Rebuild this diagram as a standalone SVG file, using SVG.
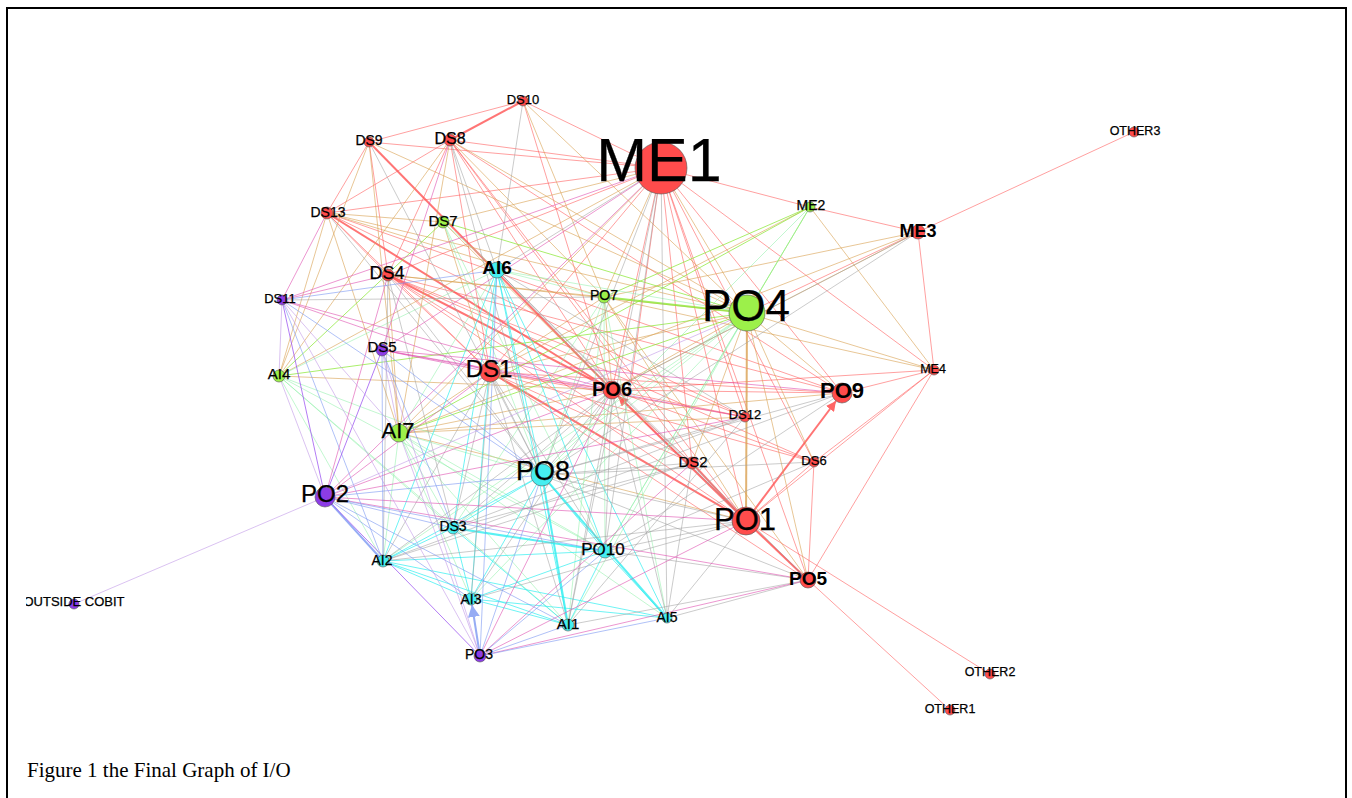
<svg xmlns="http://www.w3.org/2000/svg" width="1352" height="798" viewBox="0 0 1352 798">
<style>
.e line{fill:none;stroke-width:1}
.r{stroke:#ff5252;opacity:.55}
.t{stroke:#d9a050;opacity:.6}
.g{stroke:#8ee83a;opacity:.75}
.y{stroke:#8ff0aa;opacity:.55}
.c{stroke:#30eef0;opacity:.7}
.k{stroke:#a0a0a0;opacity:.55}
.m{stroke:#e050b0;opacity:.6}
.b{stroke:#7c98f2;opacity:.6}
.p{stroke:#9a50f0;opacity:.75}
.l{stroke:#c29ae8;opacity:.6}
.w{stroke-width:2!important;opacity:.8}
.n circle{stroke:#555;stroke-width:.6}
.R{fill:#ff4c4c}.G{fill:#9cf04a}.C{fill:#45eef0}.P{fill:#8c3ce6}
.n text{font-family:"Liberation Sans",Arial,sans-serif;text-anchor:middle;fill:#000;stroke:#000;stroke-width:.25}
.n text.bd{font-weight:bold;stroke-width:0}
</style>
<defs>
<marker id="ar" viewBox="0 0 10 10" refX="10" refY="5" markerWidth="5" markerHeight="5" orient="auto"><path d="M0 0L10 5L0 10z" fill="#ff4040"/></marker>
<marker id="ab" viewBox="0 0 10 10" refX="10" refY="5" markerWidth="6" markerHeight="6" orient="auto"><path d="M0 0L10 5L0 10z" fill="#7c98f2"/></marker>
<clipPath id="cl"><rect x="26" y="0" width="1326" height="798"/></clipPath>
</defs>
<rect x="7" y="8" width="1339" height="800" fill="#fff" stroke="#000" stroke-width="2"/>
<g id="edges" class="e">
<line class="r" x1="523" y1="101" x2="369" y2="142"/>
<line class="r w" x1="523" y1="101" x2="450" y2="140"/>
<line class="r" x1="523" y1="101" x2="661" y2="168"/>
<line class="r" x1="523" y1="101" x2="612" y2="390"/>
<line class="r" x1="369" y1="142" x2="327" y2="213"/>
<line class="r" x1="369" y1="142" x2="388" y2="275"/>
<line class="r" x1="369" y1="142" x2="661" y2="168"/>
<line class="r w" x1="369" y1="142" x2="612" y2="390"/>
<line class="r" x1="450" y1="140" x2="327" y2="213"/>
<line class="r" x1="450" y1="140" x2="661" y2="168"/>
<line class="r" x1="450" y1="140" x2="388" y2="275"/>
<line class="r" x1="450" y1="140" x2="490" y2="372"/>
<line class="r" x1="450" y1="140" x2="612" y2="390"/>
<line class="r" x1="450" y1="140" x2="746" y2="521"/>
<line class="r" x1="450" y1="140" x2="692" y2="463"/>
<line class="r" x1="450" y1="140" x2="842" y2="393"/>
<line class="r" x1="327" y1="213" x2="388" y2="275"/>
<line class="r w" x1="327" y1="213" x2="612" y2="390"/>
<line class="r" x1="327" y1="213" x2="490" y2="372"/>
<line class="r" x1="327" y1="213" x2="661" y2="168"/>
<line class="r" x1="327" y1="213" x2="745" y2="417"/>
<line class="r" x1="327" y1="213" x2="842" y2="393"/>
<line class="r w" x1="388" y1="275" x2="612" y2="390"/>
<line class="r" x1="388" y1="275" x2="746" y2="521"/>
<line class="r" x1="388" y1="275" x2="490" y2="372"/>
<line class="r" x1="388" y1="275" x2="842" y2="393"/>
<line class="r" x1="388" y1="275" x2="745" y2="417"/>
<line class="r" x1="388" y1="275" x2="661" y2="168"/>
<line class="r" x1="388" y1="275" x2="814" y2="462"/>
<line class="r" x1="388" y1="275" x2="692" y2="463"/>
<line class="r" x1="810" y1="207" x2="918" y2="232"/>
<line class="r" x1="918" y1="232" x2="1134" y2="132"/>
<line class="r" x1="918" y1="232" x2="934" y2="370"/>
<line class="r" x1="918" y1="232" x2="747" y2="313"/>
<line class="r" x1="661" y1="168" x2="934" y2="370"/>
<line class="r" x1="661" y1="168" x2="842" y2="393"/>
<line class="r" x1="661" y1="168" x2="808" y2="580"/>
<line class="r" x1="661" y1="168" x2="746" y2="521"/>
<line class="r" x1="661" y1="168" x2="745" y2="417"/>
<line class="r" x1="661" y1="168" x2="692" y2="463"/>
<line class="r" x1="661" y1="168" x2="814" y2="462"/>
<line class="r" x1="661" y1="168" x2="490" y2="372"/>
<line class="r" x1="661" y1="168" x2="612" y2="390"/>
<line class="r" x1="661" y1="168" x2="630" y2="390"/>
<line class="r" x1="490" y1="372" x2="612" y2="390"/>
<line class="r w" x1="490" y1="372" x2="746" y2="521"/>
<line class="r" x1="490" y1="372" x2="842" y2="393"/>
<line class="r" x1="490" y1="372" x2="745" y2="417"/>
<line class="r" x1="490" y1="372" x2="814" y2="462"/>
<line class="r" x1="490" y1="372" x2="808" y2="580"/>
<line class="r" x1="490" y1="372" x2="692" y2="463"/>
<line class="r w" x1="746" y1="521" x2="618" y2="396" marker-end="url(#ar)"/>
<line class="r" x1="612" y1="390" x2="842" y2="393"/>
<line class="r" x1="612" y1="390" x2="745" y2="417"/>
<line class="r" x1="612" y1="390" x2="814" y2="462"/>
<line class="r" x1="612" y1="390" x2="692" y2="463"/>
<line class="r" x1="612" y1="390" x2="808" y2="580"/>
<line class="r" x1="612" y1="390" x2="934" y2="370"/>
<line class="r" x1="842" y1="393" x2="934" y2="370"/>
<line class="r w" x1="746" y1="521" x2="836" y2="401" marker-end="url(#ar)"/>
<line class="r" x1="934" y1="370" x2="746" y2="521"/>
<line class="r" x1="934" y1="370" x2="808" y2="580"/>
<line class="r" x1="934" y1="370" x2="814" y2="462"/>
<line class="r w" x1="692" y1="463" x2="746" y2="521"/>
<line class="r" x1="814" y1="462" x2="808" y2="580"/>
<line class="r" x1="814" y1="462" x2="746" y2="521"/>
<line class="r w" x1="746" y1="521" x2="808" y2="580"/>
<line class="r" x1="746" y1="521" x2="990" y2="674"/>
<line class="r" x1="808" y1="580" x2="950" y2="710"/>
<line class="t" x1="523" y1="101" x2="604" y2="297"/>
<line class="t" x1="523" y1="101" x2="747" y2="313"/>
<line class="t" x1="369" y1="142" x2="279" y2="376"/>
<line class="t" x1="369" y1="142" x2="747" y2="313"/>
<line class="t" x1="369" y1="142" x2="399" y2="433"/>
<line class="t" x1="450" y1="140" x2="399" y2="433"/>
<line class="t" x1="450" y1="140" x2="747" y2="313"/>
<line class="t" x1="450" y1="140" x2="604" y2="297"/>
<line class="t" x1="450" y1="140" x2="279" y2="376"/>
<line class="t" x1="327" y1="213" x2="279" y2="376"/>
<line class="t" x1="327" y1="213" x2="399" y2="433"/>
<line class="t" x1="327" y1="213" x2="747" y2="313"/>
<line class="t" x1="327" y1="213" x2="604" y2="297"/>
<line class="t" x1="443" y1="222" x2="612" y2="390"/>
<line class="t" x1="443" y1="222" x2="661" y2="168"/>
<line class="t" x1="443" y1="222" x2="490" y2="372"/>
<line class="t" x1="443" y1="222" x2="327" y2="213"/>
<line class="t" x1="388" y1="275" x2="747" y2="313"/>
<line class="t" x1="388" y1="275" x2="399" y2="433"/>
<line class="t" x1="388" y1="275" x2="604" y2="297"/>
<line class="r" x1="661" y1="168" x2="810" y2="207"/>
<line class="t" x1="661" y1="168" x2="604" y2="297"/>
<line class="t" x1="661" y1="168" x2="747" y2="313"/>
<line class="t" x1="661" y1="168" x2="399" y2="433"/>
<line class="t" x1="661" y1="168" x2="279" y2="376"/>
<line class="t" x1="810" y1="207" x2="934" y2="370"/>
<line class="t" x1="810" y1="207" x2="490" y2="372"/>
<line class="t" x1="918" y1="232" x2="612" y2="390"/>
<line class="t" x1="918" y1="232" x2="604" y2="297"/>
<line class="t" x1="918" y1="232" x2="399" y2="433"/>
<line class="t" x1="604" y1="297" x2="612" y2="390"/>
<line class="t" x1="604" y1="297" x2="934" y2="370"/>
<line class="t" x1="747" y1="313" x2="934" y2="370"/>
<line class="t" x1="747" y1="313" x2="842" y2="393"/>
<line class="t w" x1="747" y1="313" x2="746" y2="521"/>
<line class="t" x1="747" y1="313" x2="808" y2="580"/>
<line class="t" x1="747" y1="313" x2="814" y2="462"/>
<line class="t" x1="747" y1="313" x2="612" y2="390"/>
<line class="t" x1="747" y1="313" x2="490" y2="372"/>
<line class="t" x1="747" y1="313" x2="692" y2="463"/>
<line class="t" x1="279" y1="376" x2="612" y2="390"/>
<line class="t" x1="399" y1="433" x2="612" y2="390"/>
<line class="t" x1="399" y1="433" x2="490" y2="372"/>
<line class="t" x1="399" y1="433" x2="842" y2="393"/>
<line class="t" x1="399" y1="433" x2="745" y2="417"/>
<line class="t" x1="604" y1="297" x2="490" y2="372"/>
<line class="t" x1="604" y1="297" x2="746" y2="521"/>
<line class="t" x1="604" y1="297" x2="808" y2="580"/>
<line class="t" x1="399" y1="433" x2="746" y2="521"/>
<line class="g" x1="443" y1="222" x2="279" y2="376"/>
<line class="g" x1="443" y1="222" x2="747" y2="313"/>
<line class="g w" x1="604" y1="297" x2="747" y2="313"/>
<line class="g" x1="810" y1="207" x2="747" y2="313"/>
<line class="g" x1="810" y1="207" x2="604" y2="297"/>
<line class="g" x1="810" y1="207" x2="399" y2="433"/>
<line class="g" x1="747" y1="313" x2="399" y2="433"/>
<line class="g" x1="747" y1="313" x2="279" y2="376"/>
<line class="y" x1="443" y1="222" x2="542" y2="475"/>
<line class="y" x1="443" y1="222" x2="605" y2="551"/>
<line class="y" x1="443" y1="222" x2="497" y2="270"/>
<line class="y" x1="497" y1="270" x2="747" y2="313"/>
<line class="y" x1="497" y1="270" x2="604" y2="297"/>
<line class="y" x1="604" y1="297" x2="542" y2="475"/>
<line class="y" x1="604" y1="297" x2="568" y2="625"/>
<line class="y" x1="604" y1="297" x2="605" y2="551"/>
<line class="y" x1="604" y1="297" x2="453" y2="528"/>
<line class="y" x1="604" y1="297" x2="667" y2="618"/>
<line class="y" x1="747" y1="313" x2="542" y2="475"/>
<line class="y" x1="747" y1="313" x2="605" y2="551"/>
<line class="y" x1="747" y1="313" x2="568" y2="625"/>
<line class="y" x1="747" y1="313" x2="453" y2="528"/>
<line class="y" x1="747" y1="313" x2="471" y2="599"/>
<line class="y" x1="747" y1="313" x2="383" y2="561"/>
<line class="y" x1="810" y1="207" x2="542" y2="475"/>
<line class="y" x1="810" y1="207" x2="605" y2="551"/>
<line class="y" x1="279" y1="376" x2="542" y2="475"/>
<line class="y" x1="279" y1="376" x2="453" y2="528"/>
<line class="y" x1="279" y1="376" x2="383" y2="561"/>
<line class="y" x1="279" y1="376" x2="605" y2="551"/>
<line class="y" x1="279" y1="376" x2="568" y2="625"/>
<line class="y" x1="399" y1="433" x2="542" y2="475"/>
<line class="y" x1="399" y1="433" x2="605" y2="551"/>
<line class="y" x1="399" y1="433" x2="568" y2="625"/>
<line class="y" x1="399" y1="433" x2="471" y2="599"/>
<line class="y" x1="399" y1="433" x2="667" y2="618"/>
<line class="y" x1="399" y1="433" x2="453" y2="528"/>
<line class="y" x1="399" y1="433" x2="497" y2="270"/>
<line class="y" x1="279" y1="376" x2="497" y2="270"/>
<line class="y" x1="399" y1="433" x2="383" y2="561"/>
<line class="c" x1="497" y1="270" x2="542" y2="475"/>
<line class="c" x1="497" y1="270" x2="605" y2="551"/>
<line class="c" x1="497" y1="270" x2="568" y2="625"/>
<line class="c" x1="497" y1="270" x2="453" y2="528"/>
<line class="c" x1="497" y1="270" x2="471" y2="599"/>
<line class="c" x1="497" y1="270" x2="383" y2="561"/>
<line class="c" x1="497" y1="270" x2="667" y2="618"/>
<line class="c w" x1="542" y1="475" x2="568" y2="625"/>
<line class="c w" x1="542" y1="475" x2="667" y2="618"/>
<line class="c" x1="542" y1="475" x2="605" y2="551"/>
<line class="c" x1="542" y1="475" x2="453" y2="528"/>
<line class="c" x1="542" y1="475" x2="383" y2="561"/>
<line class="c" x1="542" y1="475" x2="471" y2="599"/>
<line class="c" x1="383" y1="561" x2="471" y2="599"/>
<line class="c" x1="383" y1="561" x2="605" y2="551"/>
<line class="c" x1="383" y1="561" x2="568" y2="625"/>
<line class="c" x1="383" y1="561" x2="667" y2="618"/>
<line class="c" x1="383" y1="561" x2="453" y2="528"/>
<line class="c" x1="471" y1="599" x2="568" y2="625"/>
<line class="c" x1="471" y1="599" x2="605" y2="551"/>
<line class="c" x1="471" y1="599" x2="667" y2="618"/>
<line class="c" x1="453" y1="528" x2="568" y2="625"/>
<line class="c w" x1="453" y1="528" x2="605" y2="551"/>
<line class="c" x1="605" y1="551" x2="667" y2="618"/>
<line class="c" x1="605" y1="551" x2="568" y2="625"/>
<line class="c" x1="453" y1="528" x2="471" y2="599"/>
<line class="k" x1="523" y1="101" x2="497" y2="270"/>
<line class="k" x1="450" y1="140" x2="497" y2="270"/>
<line class="k" x1="450" y1="140" x2="542" y2="475"/>
<line class="k" x1="369" y1="142" x2="542" y2="475"/>
<line class="k" x1="327" y1="213" x2="542" y2="475"/>
<line class="k" x1="388" y1="275" x2="542" y2="475"/>
<line class="k" x1="388" y1="275" x2="383" y2="561"/>
<line class="k" x1="388" y1="275" x2="453" y2="528"/>
<line class="k" x1="497" y1="270" x2="612" y2="390"/>
<line class="k" x1="497" y1="270" x2="746" y2="521"/>
<line class="k" x1="497" y1="270" x2="661" y2="168"/>
<line class="k" x1="497" y1="270" x2="808" y2="580"/>
<line class="k" x1="497" y1="270" x2="745" y2="417"/>
<line class="k" x1="661" y1="168" x2="542" y2="475"/>
<line class="k" x1="661" y1="168" x2="605" y2="551"/>
<line class="k" x1="661" y1="168" x2="568" y2="625"/>
<line class="k" x1="661" y1="168" x2="667" y2="618"/>
<line class="k" x1="918" y1="232" x2="542" y2="475"/>
<line class="k" x1="490" y1="372" x2="542" y2="475"/>
<line class="k" x1="490" y1="372" x2="605" y2="551"/>
<line class="k" x1="490" y1="372" x2="453" y2="528"/>
<line class="k" x1="490" y1="372" x2="471" y2="599"/>
<line class="k" x1="490" y1="372" x2="568" y2="625"/>
<line class="k" x1="490" y1="372" x2="383" y2="561"/>
<line class="k" x1="612" y1="390" x2="542" y2="475"/>
<line class="k" x1="612" y1="390" x2="605" y2="551"/>
<line class="k" x1="612" y1="390" x2="453" y2="528"/>
<line class="k" x1="612" y1="390" x2="471" y2="599"/>
<line class="k" x1="612" y1="390" x2="568" y2="625"/>
<line class="k" x1="612" y1="390" x2="667" y2="618"/>
<line class="k" x1="612" y1="390" x2="383" y2="561"/>
<line class="k" x1="542" y1="475" x2="746" y2="521"/>
<line class="k" x1="542" y1="475" x2="808" y2="580"/>
<line class="k" x1="542" y1="475" x2="745" y2="417"/>
<line class="k" x1="542" y1="475" x2="842" y2="393"/>
<line class="k" x1="542" y1="475" x2="692" y2="463"/>
<line class="k" x1="542" y1="475" x2="814" y2="462"/>
<line class="k" x1="692" y1="463" x2="667" y2="618"/>
<line class="k" x1="692" y1="463" x2="453" y2="528"/>
<line class="k" x1="692" y1="463" x2="383" y2="561"/>
<line class="k" x1="746" y1="521" x2="667" y2="618"/>
<line class="k" x1="746" y1="521" x2="471" y2="599"/>
<line class="k" x1="746" y1="521" x2="605" y2="551"/>
<line class="k" x1="746" y1="521" x2="383" y2="561"/>
<line class="k" x1="605" y1="551" x2="808" y2="580"/>
<line class="k" x1="667" y1="618" x2="808" y2="580"/>
<line class="k" x1="568" y1="625" x2="808" y2="580"/>
<line class="k" x1="745" y1="417" x2="568" y2="625"/>
<line class="k" x1="745" y1="417" x2="453" y2="528"/>
<line class="k" x1="842" y1="393" x2="605" y2="551"/>
<line class="k" x1="814" y1="462" x2="605" y2="551"/>
<line class="k" x1="842" y1="393" x2="383" y2="561"/>
<line class="k" x1="282" y1="300" x2="604" y2="297"/>
<line class="k" x1="918" y1="232" x2="612" y2="390"/>
<line class="m" x1="450" y1="140" x2="382" y2="350"/>
<line class="m" x1="327" y1="213" x2="282" y2="300"/>
<line class="m" x1="388" y1="275" x2="282" y2="300"/>
<line class="m" x1="388" y1="275" x2="325" y2="497"/>
<line class="m" x1="282" y1="300" x2="612" y2="390"/>
<line class="m" x1="282" y1="300" x2="490" y2="372"/>
<line class="m" x1="282" y1="300" x2="661" y2="168"/>
<line class="m" x1="382" y1="350" x2="612" y2="390"/>
<line class="m" x1="382" y1="350" x2="490" y2="372"/>
<line class="m" x1="382" y1="350" x2="661" y2="168"/>
<line class="m" x1="382" y1="350" x2="842" y2="393"/>
<line class="m" x1="325" y1="497" x2="612" y2="390"/>
<line class="m" x1="325" y1="497" x2="746" y2="521"/>
<line class="m" x1="325" y1="497" x2="490" y2="372"/>
<line class="m" x1="325" y1="497" x2="808" y2="580"/>
<line class="m" x1="325" y1="497" x2="661" y2="168"/>
<line class="m" x1="480" y1="656" x2="808" y2="580"/>
<line class="m" x1="480" y1="656" x2="746" y2="521"/>
<line class="m" x1="480" y1="656" x2="612" y2="390"/>
<line class="m" x1="480" y1="656" x2="692" y2="463"/>
<line class="m" x1="325" y1="497" x2="745" y2="417"/>
<line class="m" x1="382" y1="350" x2="745" y2="417"/>
<line class="b" x1="282" y1="300" x2="383" y2="561"/>
<line class="b" x1="282" y1="300" x2="542" y2="475"/>
<line class="b" x1="382" y1="350" x2="383" y2="561"/>
<line class="b" x1="382" y1="350" x2="542" y2="475"/>
<line class="b" x1="382" y1="350" x2="453" y2="528"/>
<line class="b" x1="325" y1="497" x2="542" y2="475"/>
<line class="b w" x1="325" y1="497" x2="383" y2="561"/>
<line class="b" x1="325" y1="497" x2="453" y2="528"/>
<line class="b" x1="325" y1="497" x2="605" y2="551"/>
<line class="b" x1="325" y1="497" x2="471" y2="599"/>
<line class="b" x1="325" y1="497" x2="568" y2="625"/>
<line class="b w" x1="480" y1="656" x2="472" y2="605" marker-end="url(#ab)"/>
<line class="b" x1="480" y1="656" x2="568" y2="625"/>
<line class="b" x1="480" y1="656" x2="542" y2="475"/>
<line class="b" x1="480" y1="656" x2="497" y2="270"/>
<line class="b" x1="480" y1="656" x2="605" y2="551"/>
<line class="b" x1="480" y1="656" x2="667" y2="618"/>
<line class="b" x1="282" y1="300" x2="497" y2="270"/>
<line class="p" x1="282" y1="300" x2="325" y2="497"/>
<line class="p" x1="382" y1="350" x2="325" y2="497"/>
<line class="p" x1="325" y1="497" x2="480" y2="656"/>
<line class="l" x1="325" y1="497" x2="74" y2="604"/>
<line class="l" x1="382" y1="350" x2="480" y2="656"/>
<line class="l" x1="282" y1="300" x2="480" y2="656"/>
<line class="l" x1="282" y1="300" x2="399" y2="433"/>
<line class="l" x1="382" y1="350" x2="399" y2="433"/>
<line class="l" x1="399" y1="433" x2="480" y2="656"/>
<line class="l" x1="747" y1="313" x2="325" y2="497"/>
<line class="l" x1="279" y1="376" x2="325" y2="497"/>
<line class="l" x1="282" y1="300" x2="279" y2="376"/>
</g>
<g class="n">
<g id="DS10"><circle class="R" cx="523" cy="101" r="5"/><text x="523" y="104" font-size="13">DS10</text></g>
<g id="DS9"><circle class="R" cx="369" cy="142" r="5"/><text x="369" y="145" font-size="14">DS9</text></g>
<g id="DS8"><circle class="R" cx="450" cy="140" r="6"/><text x="450" y="144" font-size="16">DS8</text></g>
<g id="ME1"><circle class="R" cx="661" cy="168" r="26"/><text x="659" y="181" font-size="61">ME1</text></g>
<g id="ME2"><circle class="G" cx="810" cy="207" r="5"/><text x="811" y="210" font-size="14">ME2</text></g>
<g id="ME3"><circle class="R" cx="918" cy="232" r="7"/><text x="918" y="237" font-size="18" class="bd">ME3</text></g>
<g id="OTHER3"><circle class="R" cx="1134" cy="132" r="5"/><text x="1135" y="135" font-size="12.5">OTHER3</text></g>
<g id="DS13"><circle class="R" cx="327" cy="213" r="6"/><text x="328" y="217" font-size="14">DS13</text></g>
<g id="DS7"><circle class="G" cx="443" cy="222" r="6"/><text x="443" y="226" font-size="15">DS7</text></g>
<g id="DS4"><circle class="R" cx="388" cy="275" r="6"/><text x="387" y="279" font-size="18">DS4</text></g>
<g id="AI6"><circle class="C" cx="497" cy="270" r="8"/><text x="497" y="274" font-size="19" class="bd">AI6</text></g>
<g id="PO7"><circle class="G" cx="604" cy="297" r="6"/><text x="604" y="300" font-size="14">PO7</text></g>
<g id="PO4"><circle class="G" cx="747" cy="313" r="18"/><text x="746" y="321" font-size="44">PO4</text></g>
<g id="DS11"><circle class="P" cx="282" cy="300" r="5"/><text x="280" y="303" font-size="13">DS11</text></g>
<g id="DS5"><circle class="P" cx="382" cy="350" r="6"/><text x="382" y="352" font-size="15">DS5</text></g>
<g id="AI4"><circle class="G" cx="279" cy="376" r="6"/><text x="279" y="379" font-size="15">AI4</text></g>
<g id="DS1"><circle class="R" cx="490" cy="372" r="10"/><text x="489" y="377" font-size="24">DS1</text></g>
<g id="PO6"><circle class="R" cx="612" cy="390" r="9"/><text x="612" y="396" font-size="20" class="bd">PO6</text></g>
<g id="ME4"><circle class="R" cx="934" cy="370" r="5"/><text x="933" y="373" font-size="12.5">ME4</text></g>
<g id="PO9"><circle class="R" cx="842" cy="393" r="10"/><text x="842" y="398" font-size="22" class="bd">PO9</text></g>
<g id="DS12"><circle class="R" cx="745" cy="417" r="5"/><text x="745" y="419" font-size="13">DS12</text></g>
<g id="AI7"><circle class="G" cx="399" cy="433" r="9"/><text x="398" y="438" font-size="22">AI7</text></g>
<g id="DS2"><circle class="R" cx="692" cy="463" r="6"/><text x="693" y="467" font-size="15">DS2</text></g>
<g id="DS6"><circle class="R" cx="814" cy="462" r="5"/><text x="814" y="465" font-size="13">DS6</text></g>
<g id="PO8"><circle class="C" cx="542" cy="475" r="11"/><text x="543" y="480" font-size="27">PO8</text></g>
<g id="PO2"><circle class="P" cx="325" cy="497" r="10"/><text x="325" y="502" font-size="24">PO2</text></g>
<g id="PO1"><circle class="R" cx="746" cy="521" r="14"/><text x="745" y="530" font-size="31">PO1</text></g>
<g id="DS3"><circle class="C" cx="453" cy="528" r="6"/><text x="453" y="531" font-size="14">DS3</text></g>
<g id="PO10"><circle class="C" cx="605" cy="551" r="7"/><text x="603" y="555" font-size="17">PO10</text></g>
<g id="AI2"><circle class="C" cx="383" cy="561" r="6"/><text x="382" y="565" font-size="14">AI2</text></g>
<g id="PO5"><circle class="R" cx="808" cy="580" r="8"/><text x="808" y="585" font-size="19" class="bd">PO5</text></g>
<g id="OUTSIDE_COBIT" clip-path="url(#cl)"><circle class="P" cx="74" cy="604" r="5"/><text x="74" y="606" font-size="13">OUTSIDE COBIT</text></g>
<g id="AI3"><circle class="C" cx="471" cy="599" r="6"/><text x="471" y="604" font-size="14">AI3</text></g>
<g id="AI1"><circle class="C" cx="568" cy="625" r="6"/><text x="568" y="629" font-size="15">AI1</text></g>
<g id="AI5"><circle class="C" cx="667" cy="618" r="5"/><text x="667" y="622" font-size="14">AI5</text></g>
<g id="PO3"><circle class="P" cx="480" cy="656" r="6"/><text x="479" y="659" font-size="14">PO3</text></g>
<g id="OTHER2"><circle class="R" cx="990" cy="674" r="5"/><text x="990" y="676" font-size="12.5">OTHER2</text></g>
<g id="OTHER1"><circle class="R" cx="950" cy="710" r="5"/><text x="950" y="713" font-size="12.5">OTHER1</text></g>
</g>
<text x="27" y="777" font-family="'Liberation Serif','Times New Roman',serif" font-size="21" fill="#000">Figure 1 the Final Graph of I/O</text>
</svg>
